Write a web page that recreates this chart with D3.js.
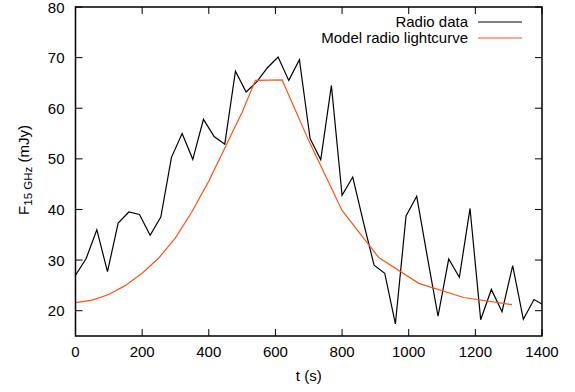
<!DOCTYPE html>
<html>
<head>
<meta charset="utf-8">
<script src="https://cdn.jsdelivr.net/npm/d3@7"></script>
<style>
  body { margin: 0; background: #fff; }
  text { font-family: "Liberation Sans", Arial, sans-serif; fill: #000; }
</style>
</head>
<body>
<div id="chart"></div>
<script>
// radio data, one sample every 32 s
const dataTimes = [0, 32, 64, 96, 128, 160, 192, 224, 256, 288, 320, 352, 384, 416, 448,
  480, 512, 544, 576, 608, 640, 672, 704, 736, 768, 800, 832, 864, 896, 928, 960, 992,
  1024, 1056, 1088, 1120, 1152, 1184, 1216, 1248, 1280, 1312, 1344, 1376, 1408];
const dataFlux = [27.0, 30.3, 36.0, 27.7, 37.3, 39.5, 39.0, 34.9, 38.5, 50.3, 55.0, 49.9,
  57.8, 54.4, 52.9, 67.3, 63.2, 65.2, 68.0, 70.1, 65.5, 69.6, 54.0, 49.8, 64.5, 42.8, 46.4,
  37.5, 29.0, 27.4, 17.4, 38.7, 42.6, 30.6, 18.9, 30.2, 26.6, 40.2, 18.2, 24.2, 19.8, 28.9,
  18.3, 22.2, 21.0];

// model lightcurve
const modelTimes = [0, 50, 100, 150, 200, 250, 300, 350, 400, 450, 500, 540, 620, 700,
  800, 910, 1030, 1165, 1310];
const modelFlux = [21.6, 22.1, 23.2, 25.0, 27.4, 30.4, 34.4, 39.6, 45.6, 52.4, 59.2, 65.5,
  65.6, 53.6, 39.8, 30.5, 25.4, 22.6, 21.2];

const xTicks = [0, 200, 400, 600, 800, 1000, 1200, 1400];
const yTicks = [20, 30, 40, 50, 60, 70, 80];

const width = 575, height = 392;
const plotLeft = 75.5, plotRight = 542, plotTop = 7, plotBottom = 336;
const fontSize = 15;

const x = d3.scaleLinear().domain([0, 1400]).range([plotLeft, plotRight]);
const y = d3.scaleLinear().domain([15, 80]).range([plotBottom, plotTop]);

const svg = d3.select('#chart').append('svg')
  .attr('width', width)
  .attr('height', height);

svg.append('defs').append('clipPath')
  .attr('id', 'plotclip')
  .append('rect')
  .attr('x', plotLeft).attr('y', plotTop)
  .attr('width', plotRight - plotLeft).attr('height', plotBottom - plotTop);

// ticks, drawn inward on all four sides
const tickLen = 7;
const tg = svg.append('g').attr('stroke', '#000').attr('stroke-width', 1);
xTicks.forEach(t => {
  tg.append('line').attr('x1', x(t)).attr('x2', x(t)).attr('y1', plotBottom).attr('y2', plotBottom - tickLen);
  tg.append('line').attr('x1', x(t)).attr('x2', x(t)).attr('y1', plotTop).attr('y2', plotTop + tickLen);
});
yTicks.forEach(v => {
  tg.append('line').attr('x1', plotLeft).attr('x2', plotLeft + tickLen).attr('y1', y(v)).attr('y2', y(v));
  tg.append('line').attr('x1', plotRight).attr('x2', plotRight - tickLen).attr('y1', y(v)).attr('y2', y(v));
});

svg.append('g').selectAll('text')
  .data(xTicks)
  .enter().append('text')
  .attr('x', d => x(d))
  .attr('y', plotBottom + 21)
  .attr('text-anchor', 'middle')
  .attr('font-size', fontSize)
  .text(d => d);

svg.append('g').selectAll('text')
  .data(yTicks)
  .enter().append('text')
  .attr('x', plotLeft - 11)
  .attr('y', d => y(d) + 5.5)
  .attr('text-anchor', 'end')
  .attr('font-size', fontSize)
  .text(d => d);

// axis titles
svg.append('text')
  .attr('x', (plotLeft + plotRight) / 2)
  .attr('y', 381)
  .attr('text-anchor', 'middle')
  .attr('font-size', fontSize)
  .text('t (s)');

const yl = svg.append('text')
  .attr('transform', 'translate(29,170) rotate(-90)')
  .attr('text-anchor', 'middle')
  .attr('font-size', fontSize);
yl.append('tspan').text('F');
yl.append('tspan').attr('dy', 3).attr('font-size', 11.5).text('15 GHz');
yl.append('tspan').attr('dy', -3).text(' (mJy)');

// curves
const line = d3.line().x(d => x(d[0])).y(d => y(d[1]));
const plot = svg.append('g').attr('clip-path', 'url(#plotclip)');

plot.append('path')
  .datum(dataTimes.map((t, i) => [t, dataFlux[i]]))
  .attr('fill', 'none')
  .attr('stroke', '#000')
  .attr('stroke-width', 1.2)
  .attr('d', line);

const orange = '#ff5514';
plot.append('path')
  .datum(modelTimes.map((t, i) => [t, modelFlux[i]]))
  .attr('fill', 'none')
  .attr('stroke', orange)
  .attr('stroke-width', 1.2)
  .attr('d', line);

// legend
const legend = [['Radio data', '#000', 22], ['Model radio lightcurve', orange, 38]];
legend.forEach(l => {
  svg.append('text')
    .attr('x', 468)
    .attr('y', l[2] + 5)
    .attr('text-anchor', 'end')
    .attr('font-size', fontSize)
    .text(l[0]);
  svg.append('line')
    .attr('x1', 478).attr('x2', 522)
    .attr('y1', l[2]).attr('y2', l[2])
    .attr('stroke', l[1]).attr('stroke-width', 1.2);
});

// border
svg.append('rect')
  .attr('x', plotLeft).attr('y', plotTop)
  .attr('width', plotRight - plotLeft).attr('height', plotBottom - plotTop)
  .attr('fill', 'none')
  .attr('stroke', '#000')
  .attr('stroke-width', 1.5);
</script>
</body>
</html>
